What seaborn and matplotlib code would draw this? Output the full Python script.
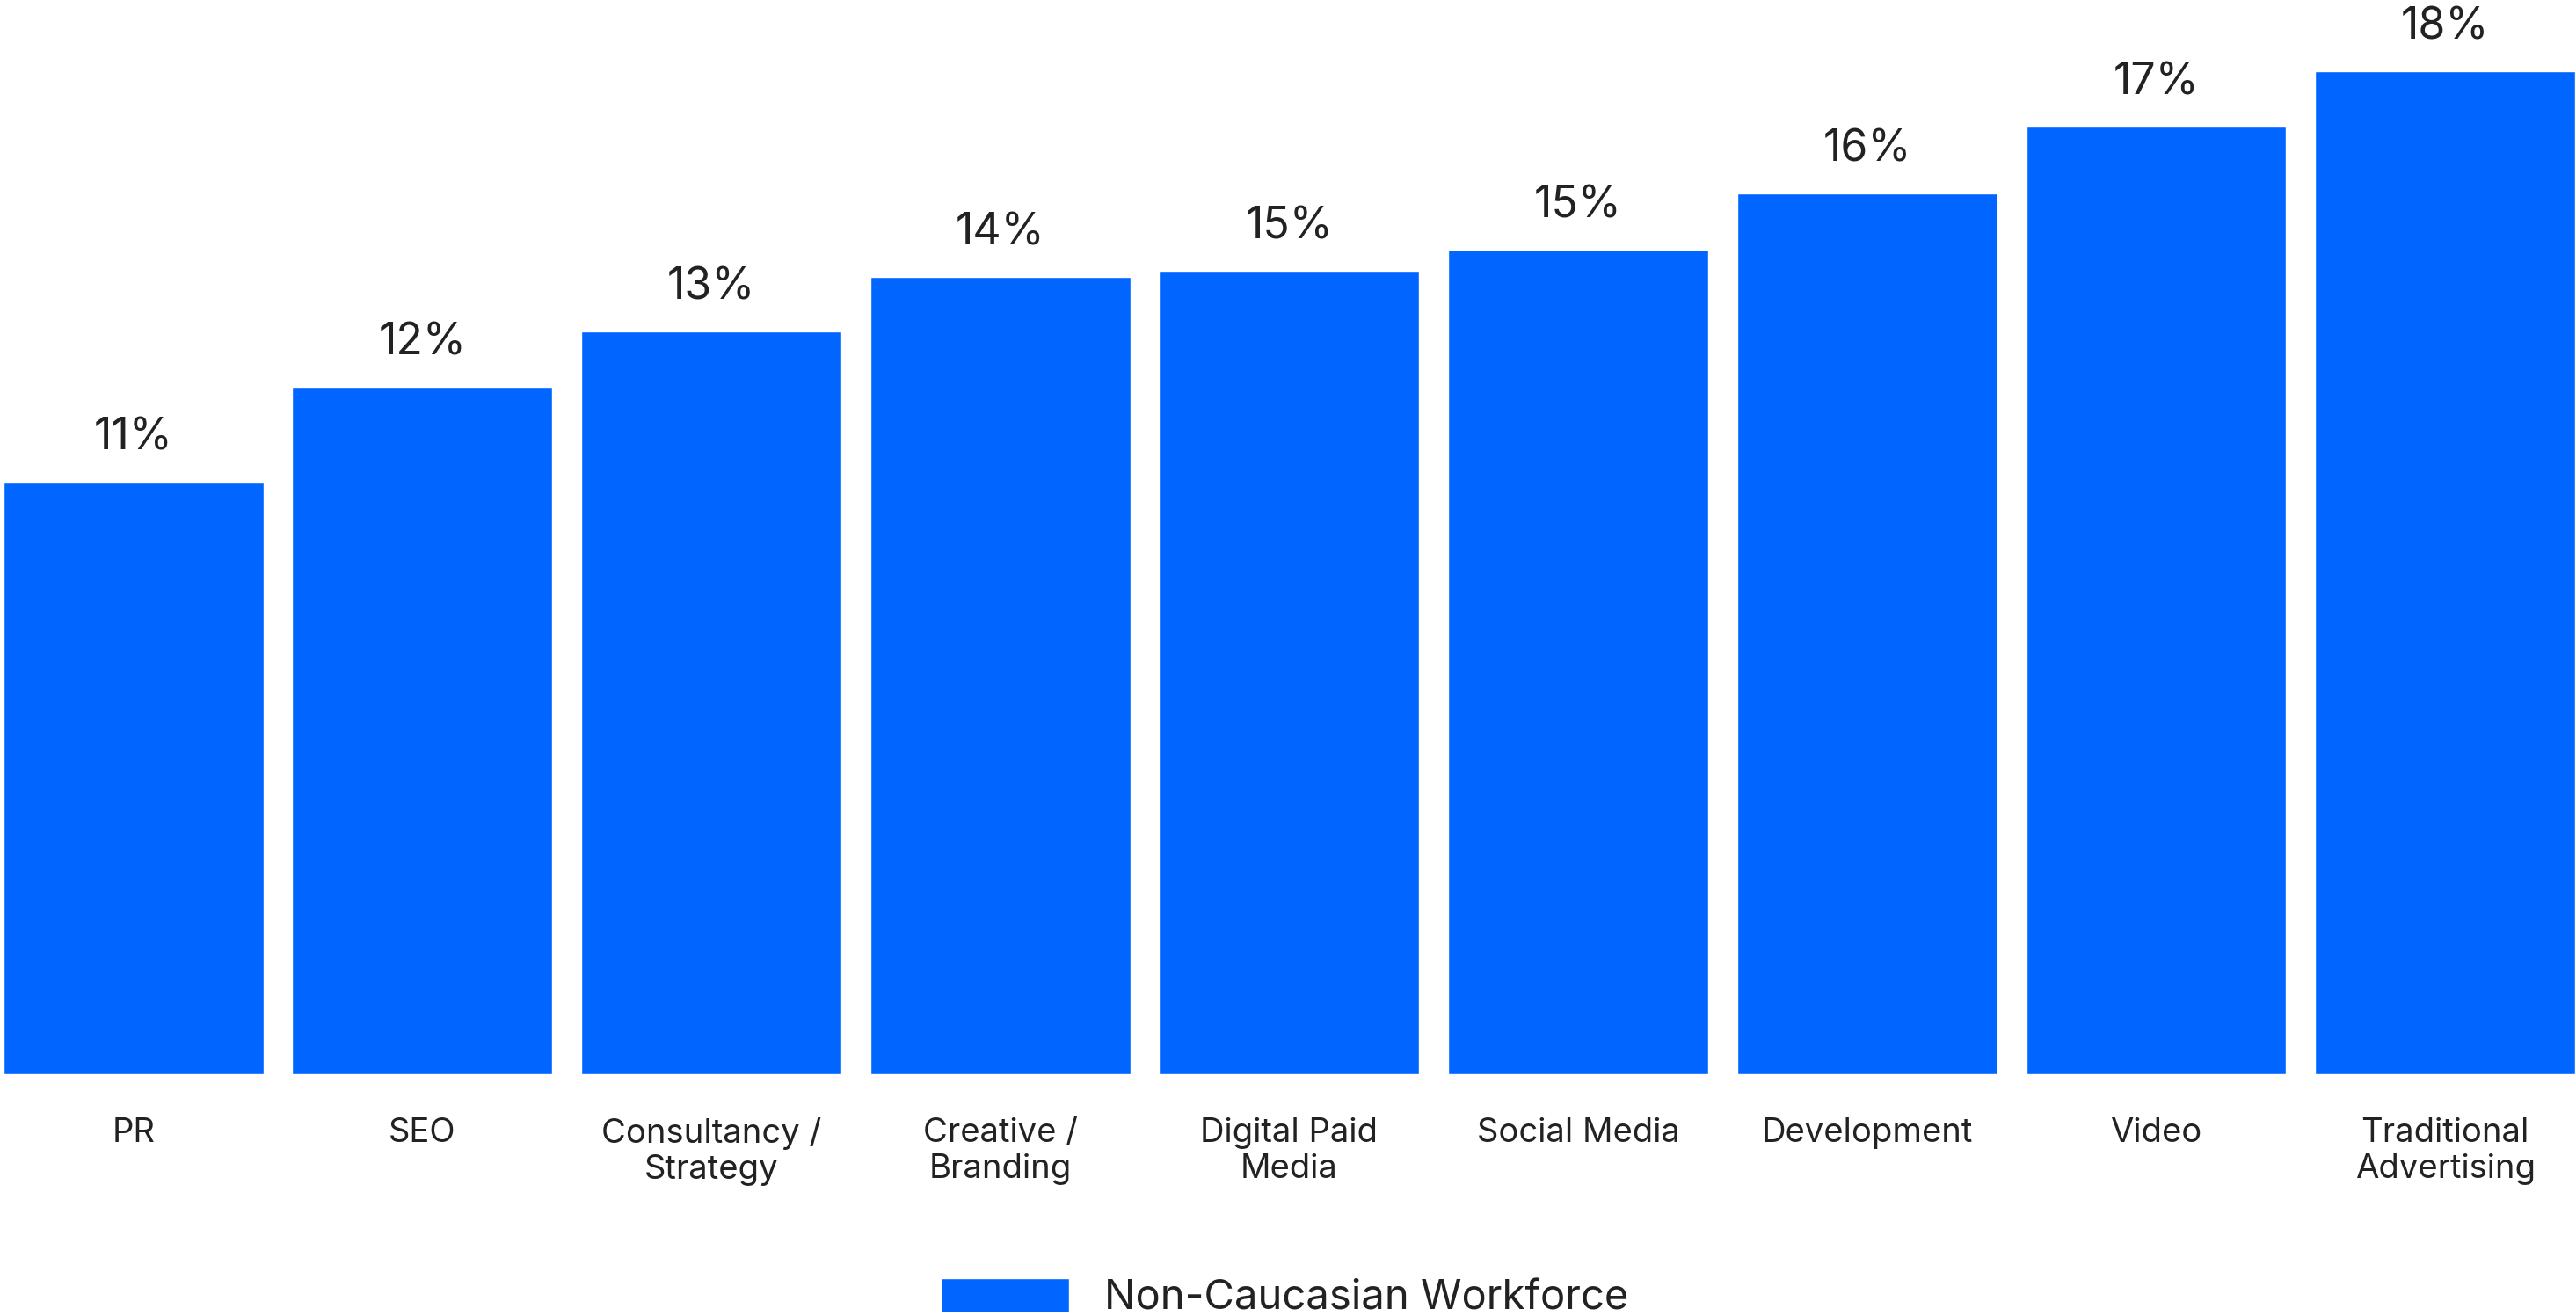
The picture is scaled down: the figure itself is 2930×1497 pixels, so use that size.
import matplotlib
matplotlib.use("Agg")
import matplotlib.pyplot as plt
import seaborn as sns
import pandas as pd

categories = ["PR", "SEO", "Consultancy /\nStrategy", "Creative /\nBranding",
              "Digital Paid\nMedia", "Social Media", "Development", "Video",
              "Traditional\nAdvertising"]
values = [10.73, 12.44, 13.44, 14.43, 14.54, 14.93, 15.94, 17.15, 18.15]
value_labels = ["11%", "12%", "13%", "14%", "15%", "15%", "16%", "17%", "18%"]
series_name = "Non-Caucasian Workforce"

BAR_COLOR = "#0066FF"
TEXT_COLOR = "#222222"

sns.set_theme(style="white")
plt.rcParams["font.family"] = ["Inter", "DejaVu Sans"]

df = pd.DataFrame({"category": categories, "value": values})

W, H, DPI = 2930, 1497, 100
fig = plt.figure(figsize=(W / DPI, H / DPI), dpi=DPI)
ax = fig.add_axes([3.8 / W, (H - 1222) / H, (2929 - 3.8) / W, (1222 - 81.1) / H])

sns.barplot(data=df, x="category", y="value", color=BAR_COLOR, saturation=1,
            width=0.9, ax=ax, label=series_name)

ax.set_xlim(-0.45, len(categories) - 1 + 0.45)
ax.set_ylim(0, max(values))
ax.set_xlabel("")
ax.set_ylabel("")
ax.set_yticks([])
for s in ax.spines.values():
    s.set_visible(False)
ax.tick_params(axis="x", length=0, pad=35, labelsize=27.5, labelcolor=TEXT_COLOR)
for t in ax.get_xticklabels():
    t.set_linespacing(1.2)

ax.bar_label(ax.containers[0], labels=value_labels, padding=19, fontsize=36,
             color=TEXT_COLOR, clip_on=False)

handles, labels = ax.get_legend_handles_labels()
if ax.get_legend() is not None:
    ax.get_legend().remove()
fig.legend(handles, labels, loc="center", bbox_to_anchor=(1461 / W, (H - 1477) / H),
           frameon=False, fontsize=34, handlelength=3.1, handleheight=0.9,
           handletextpad=0.85, labelcolor=TEXT_COLOR, borderpad=0)

fig.savefig("out.png", dpi=DPI, facecolor="white")
